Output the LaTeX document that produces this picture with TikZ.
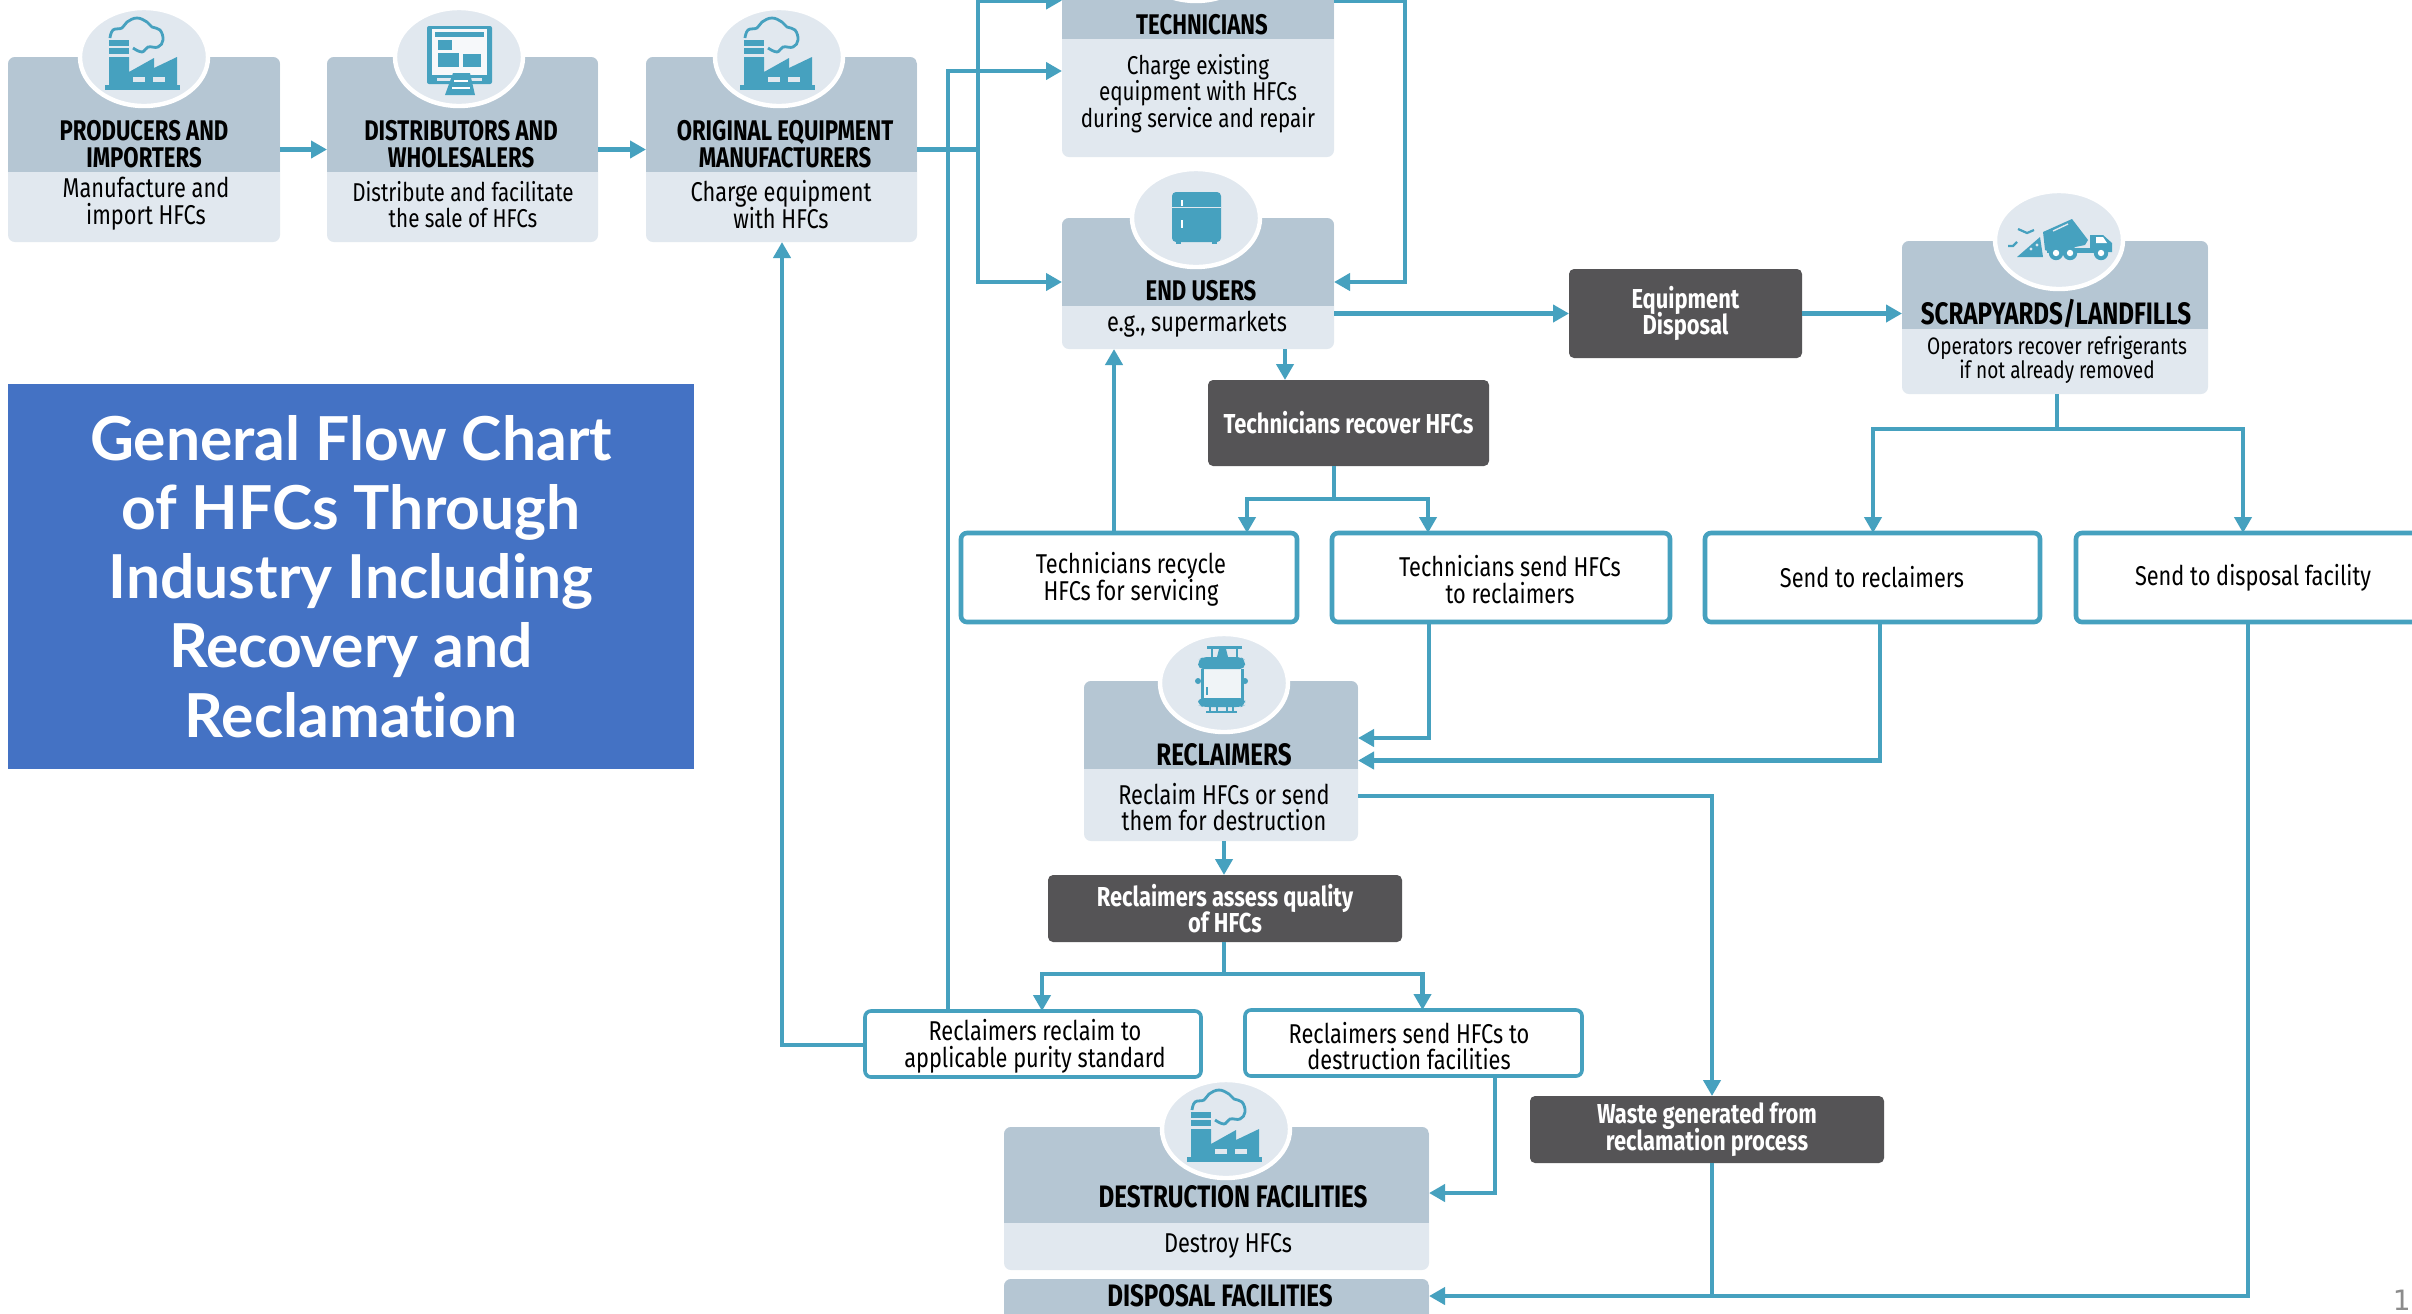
\documentclass[tikz,border=0pt]{standalone}
\usepackage{fontspec}
\usetikzlibrary{arrows.meta,shapes.geometric,calc}
\setmainfont{Fira Sans}
\newfontfamily\condf[FakeStretch=0.78]{Fira Sans}
\newfontfamily\bodyf[FakeStretch=0.80]{Fira Sans}
\newfontfamily\titlef[Ligatures=NoCommon]{Lato}
\newfontfamily\numf{DejaVu Sans}
\definecolor{flowc}{HTML}{46A1BF}
\definecolor{hdrc}{HTML}{B5C6D3}
\definecolor{bodyc}{HTML}{E1E8EF}
\definecolor{darkc}{HTML}{555456}
\definecolor{bluec}{HTML}{4472C4}
\newcommand\tightlines{\lineskiplimit=-100pt\relax}
\tikzset{
  bodybox/.style={fill=bodyc,rounded corners=3.5pt,inner sep=0pt,outer sep=0pt},
  iconell/.style={ellipse,fill=bodyc,draw=white,line width=2.2pt,minimum width=64pt,minimum height=49pt,inner sep=0pt,outer sep=0pt},
  hdrtxt/.style={inner sep=0pt,align=center,text=black,font=\tightlines\condf\bfseries\fontsize{14.2}{13.6}\selectfont},
  hdrbig/.style={hdrtxt,font=\tightlines\condf\bfseries\fontsize{15.5}{13.6}\selectfont},
  bodytxt/.style={inner sep=0pt,align=center,text=black,font=\tightlines\bodyf\fontsize{13.6}{13.4}\selectfont},
  bodynar/.style={bodytxt,font=\tightlines\bodyf\fontsize{12.9}{13.2}\selectfont},
  smalltxt/.style={inner sep=0pt,align=center,text=black,font=\tightlines\bodyf\fontsize{11.9}{12}\selectfont},
  darkbox/.style={fill=darkc,rounded corners=2.5pt,inner sep=0pt,outer sep=0pt,align=center,text=white,font=\tightlines\bodyf\bfseries\fontsize{13.7}{13.2}\selectfont},
  whitebox/.style={fill=white,draw=flowc,rounded corners=3pt,inner sep=0pt,outer sep=0pt,align=center,text=black},
  conn/.style={draw=flowc,line width=2.1pt},
  connar/.style={conn,-{Triangle[length=8pt,width=8.5pt]}},
  icf/.style={fill=flowc,draw=none},
  icl/.style={draw=flowc,line width=1.1pt,fill=none}
}
\newcommand\tboxx[6]{% name x1 y1 x2 y2 ysplit
  \pgfmathsetmacro\bw{(#4-#2)*0.5}\pgfmathsetmacro\bh{(#5-#3)*0.5}
  \node[bodybox,minimum width=\bw pt,minimum height=\bh pt] (#1) at ({(#2+#4)/2},{(#3+#5)/2}) {};
  \begin{scope}\clip[rounded corners=3.5pt] (#2,#3) rectangle (#4,#5);
  \fill[hdrc] (#2,#3) rectangle (#4,#6);\end{scope}}
\newcommand\dbox[7]{% name x1 y1 x2 y2 text style
  \pgfmathsetmacro\bw{(#4-#2)*0.5}\pgfmathsetmacro\bh{(#5-#3)*0.5}
  \node[#7,minimum width=\bw pt,minimum height=\bh pt] (#1) at ({(#2+#4)/2},{(#3+#5)/2}) {#6};}
\newcommand\wbox[7]{% name x1 y1 x2 y2 text linewidth
  \pgfmathsetmacro\bw{(#4-#2)*0.5}\pgfmathsetmacro\bh{(#5-#3)*0.5}
  \node[whitebox,line width=#7,minimum width=\bw pt,minimum height=\bh pt] (#1) at ({(#2+#4)/2},{(#3+#5)/2}) {};}
\newcommand\factoryicon[2]{%
  \begin{scope}[shift={(#1,#2)}]
  \fill[icf] (-39,28) rectangle (36,33);
  \fill[icf] (-35,-17) rectangle (-15,-11);
  \fill[icf] (-35,-9) rectangle (-15,-3);
  \fill[icf] (-35,0) -- (-15,0) -- (-15,15) -- (10,1) -- (10,11) -- (33,0) -- (33,30) -- (-35,30) -- cycle;
  \fill[bodyc] (-11,20) rectangle (1,25);
  \fill[bodyc] (9,20) rectangle (21,25);
  \draw[icl,line width=1.4pt] plot[smooth,tension=0.7] coordinates {(-34,-19) (-31,-27) (-22,-29) (-17,-35) (-7,-39) (3,-35) (8,-30) (16,-27) (19,-17) (14,-10) (4,-10) (-2,-5) (-11,-9)};
  \end{scope}}
\begin{document}
\begin{tikzpicture}[x=0.5pt,y=-0.5pt]
\clip (0,0) rectangle (2412,1313);
\fill[white] (0,0) rectangle (2412,1313);

% ---- title panel
\node[fill=bluec,minimum width=343pt,minimum height=192.25pt,inner sep=0pt,outer sep=0pt,align=center,text=white,font=\titlef\bfseries\fontsize{30.3}{34.6}\selectfont] (title) at (351,576.5)
{General Flow Chart\\of HFCs Through\\Industry Including\\Recovery and\\Reclamation};

% ---- header boxes
\tboxx{prod}{8}{57}{280}{242}{172}
\node[iconell] (prodI) at (144,57) {};
\factoryicon{144}{57}
\node[hdrtxt] (prodT) at (144,144.5) {PRODUCERS AND\\IMPORTERS};
\node[bodytxt] (prodB) at (146,204) {Manufacture and\\import HFCs};

\tboxx{dist}{327}{57}{598}{242}{172}
\node[iconell] (distI) at (459,57) {};
\begin{scope}[shift={(459,57)}]
  \fill[icf,rounded corners=1pt] (-32,-31) rectangle (33,27);
  \fill[white!70!bodyc] (-27,-28) rectangle (28,18);
  \fill[icf] (-24,-25) rectangle (25,-20);
  \fill[icf] (-21,-17) rectangle (-7,-7);
  \fill[icf] (-21,-4) rectangle (0,10);
  \fill[icf] (4,-3) rectangle (22,10);
  \fill[bodyc] (-22,21) rectangle (23,24);
  \fill[icf] (-6,16) -- (11,16) -- (16,38) -- (-14,38) -- cycle;
  \fill[white] (-5,23) rectangle (9,25);
  \fill[white] (-7,30) rectangle (11,32);
\end{scope}
\node[hdrtxt] (distT) at (461,144.5) {DISTRIBUTORS AND\\WHOLESALERS};
\node[bodynar] (distB) at (463,204.5) {Distribute and facilitate\\the sale of HFCs};

\tboxx{oem}{646}{57}{917}{242}{172}
\node[iconell] (oemI) at (779,57) {};
\factoryicon{779}{57}
\node[hdrtxt] (oemT) at (785,144.5) {ORIGINAL EQUIPMENT\\MANUFACTURERS};
\node[bodytxt] (oemB) at (781,204.5) {Charge equipment\\with HFCs};

\tboxx{tech}{1062}{-40}{1334}{157}{39}
\node[iconell] (techI) at (1196,-48) {};
\node[hdrtxt] (techT) at (1202,25) {TECHNICIANS};
\node[bodynar] (techB) at (1198,93.5) {Charge existing\\equipment with HFCs\\during service and repair};

\tboxx{endu}{1062}{218}{1334}{349}{306}
\node[iconell] (enduI) at (1196,218) {};
\begin{scope}[shift={(1196,218)}]
  \fill[icf,rounded corners=2pt] (-24,-26) rectangle (25,24);
  \fill[icf] (-20,24) rectangle (-15,26);
  \fill[icf] (16,24) rectangle (21,26);
  \fill[bodyc] (-24,-11.5) rectangle (25,-10);
  \fill[white] (-15,-18) rectangle (-13,-12);
  \fill[white] (-15,2) rectangle (-13,10);
\end{scope}
\node[hdrtxt] (enduT) at (1201,291) {END USERS};
\node[bodytxt] (enduB) at (1197,324) {e.g., supermarkets};

\dbox{eqd}{1569}{269}{1802}{358}{Equipment\\Disposal}{darkbox}

\tboxx{scrap}{1902}{241}{2208}{394}{329}
\node[iconell] (scrapI) at (2059,240) {};
\begin{scope}[shift={(2059,240)}]
  \fill[icf] (-16,-8) -- (13,-21) -- (29,0) -- (26,5) -- (-9,12) -- (-14,10) -- cycle;
  \draw[bodyc,line width=0.7pt] (-6,-9) -- (9,-16);
  \fill[icf] (-12,8) rectangle (44,13);
  \fill[icf] (31,-5) -- (44,-5) -- (53,3) -- (53,12) -- (31,12) -- cycle;
  \fill[white] (37,-3) -- (44,-3) -- (48,3) -- (37,3) -- cycle;
  \fill[icf] (-42,17) -- (-19,-3) -- (-16,17) -- cycle;
  \fill[bodyc] (-28,9) circle[radius=0.8pt];
  \fill[bodyc] (-22,5) circle[radius=0.8pt];
  \foreach \wx in {-3,11,42}{
    \fill[icf] (\wx,13) circle[radius=3.6pt];
    \fill[white] (\wx,13) circle[radius=1.6pt];}
  \draw[icl] (-41,-11) -- (-32,-7) -- (-25,-10);
  \draw[icl] (-51,6) -- (-46,6) -- (-42,2);
\end{scope}
\node[hdrbig] (scrapT) at (2056,314) {SCRAPYARDS/LANDFILLS};
\node[smalltxt] (scrapB) at (2057,360) {Operators recover refrigerants\\if not already removed};

\dbox{trec}{1208}{380}{1489}{466}{Technicians recover HFCs}{darkbox}

\wbox{recy}{961}{533}{1297}{622}{}{2.3pt}
\node[bodytxt] (recyT) at (1131,579.5) {Technicians recycle\\HFCs for servicing};
\wbox{sndr}{1332}{533}{1670}{622}{}{2.3pt}
\node[bodytxt] (sndrT) at (1510,579.5) {Technicians send HFCs\\to reclaimers};
\wbox{sndc}{1705}{533}{2040}{622}{}{2.3pt}
\node[bodytxt] (sndcT) at (1872,577) {Send to reclaimers};
\wbox{sndd}{2076}{533}{2420}{622}{}{2.3pt}
\node[bodytxt] (snddT) at (2253,578) {Send to disposal facility};

\tboxx{recl}{1084}{681}{1358}{841}{769}
\node[iconell] (reclI) at (1224,683) {};
\begin{scope}[shift={(1224,683)}]
  \fill[white!50!bodyc] (-22,-18) rectangle (18,22);
  \draw[icl,line width=1.5pt] (-22,-14) -- (-22,20);
  \draw[icl,line width=1.5pt] (18,-14) -- (18,20);
  \fill[icf,rounded corners=2.5pt] (-26,-23) -- (-21,-26) -- (17,-26) -- (21,-23) -- (21,-14) -- (-26,-14) -- cycle;
  \fill[icf,rounded corners=2.5pt] (-26,15) -- (21,15) -- (21,22) -- (17,24) -- (-21,24) -- (-26,22) -- cycle;
  \fill[icf] (-17,-37) rectangle (18,-34);
  \draw[icl] (-12,-35) -- (-12,-26);
  \draw[icl] (13,-35) -- (13,-26);
  \fill[icf] (-5,-34) -- (2,-34) -- (4,-26) -- (-7,-26) -- cycle;
  \fill[icf] (-26,-2) circle[radius=1.5pt];
  \fill[icf] (21,-2) circle[radius=1.5pt];
  \fill[icf] (-18,27.5) rectangle (13,30);
  \draw[icl] (-14,24) -- (-14,29);
  \draw[icl] (-7,24) -- (-7,29);
  \draw[icl] (3,24) -- (3,29);
  \draw[icl] (9,24) -- (9,29);
  \draw[icl] (-17,4) -- (-17,12);
\end{scope}
\node[hdrbig] (reclT) at (1224,755) {RECLAIMERS};
\node[bodytxt] (reclB) at (1224,807) {Reclaim HFCs or send\\them for destruction};

\dbox{assq}{1048}{875}{1402}{942}{Reclaimers assess quality\\of HFCs}{darkbox}

\wbox{rpur}{865}{1011}{1201}{1077}{}{1.8pt}
\node[bodytxt] (rpurT) at (1035,1046) {Reclaimers reclaim to\\applicable purity standard};
\wbox{rdes}{1245}{1010}{1582}{1076}{}{1.8pt}
\node[bodytxt] (rdesT) at (1409,1046) {Reclaimers send HFCs to\\destruction facilities};

\tboxx{dest}{1004}{1127}{1429}{1270}{1223}
\node[iconell] (destI) at (1226,1129) {};
\factoryicon{1226}{1129}
\node[hdrbig] (destT) at (1233,1197) {DESTRUCTION FACILITIES};
\node[bodytxt] (destB) at (1228,1246) {Destroy HFCs};

\tboxx{disp}{1004}{1279}{1429}{1340}{1340}
\node[hdrbig,anchor=center] (dispT) at (1220,1296) {DISPOSAL FACILITIES};

\dbox{wast}{1530}{1096}{1884}{1163}{Waste generated from\\reclamation process}{darkbox}

\node[anchor=south east,inner sep=0pt,text=black!45,font=\numf\fontsize{14}{14}\selectfont] (pnum) at (2411,1311) {1};

% ---- connector bend points
\coordinate (j1) at (978,149.5);
\coordinate (yTechTop) at (0,0.5);
\coordinate (yTechMid) at (0,71);
\coordinate (yEndIn) at (0,282);
\coordinate (xRet) at (948,0);
\coordinate (xLoop) at (1405,0);
\coordinate (yEq) at (0,313.5);
\coordinate (j2) at (1334,499);
\coordinate (j3) at (2057,429);
\coordinate (j4) at (1224,974);
\coordinate (yRecA) at (0,738);
\coordinate (yRecB) at (0,760.5);
\coordinate (yRecOut) at (0,796);
\coordinate (xWaste) at (1712,0);
\coordinate (yPur) at (0,1045);
\coordinate (xOem) at (782,0);
\coordinate (yDest) at (0,1193);
\coordinate (yDisp) at (0,1296);

% ---- connectors
\draw[connar] (prod.east) -- (dist.west);
\draw[connar] (dist.east) -- (oem.west);
\draw[conn] (oem.east) -- (j1);
\draw[connar] (j1) |- (tech.west |- yTechTop);
\draw[connar] (j1) |- (endu.west |- yEndIn);
\draw[connar] (rpur.north -| xRet) |- (tech.west |- yTechMid);
\draw[connar] (tech.east |- yTechTop) -| (xLoop |- yEndIn) -- (endu.east |- yEndIn);
\draw[connar] (endu.east |- yEq) -- (eqd.west |- yEq);
\draw[connar] (eqd.east |- yEq) -- (scrap.west |- yEq);
\draw[connar] (endu.south -| 1285,0) -- (trec.north -| 1285,0);
\draw[conn] (trec.south -| j2) -- (j2);
\draw[connar] (j2) -| (recy.north -| 1247,0);
\draw[connar] (j2) -| (sndr.north -| 1428,0);
\draw[connar] (recy.north -| 1114,0) -- (endu.south -| 1114,0);
\draw[conn] (scrap.south -| j3) -- (j3);
\draw[connar] (j3) -| (sndc.north -| 1873,0);
\draw[connar] (j3) -| (sndd.north -| 2243,0);
\draw[connar] (sndr.south -| 1429,0) |- (recl.east |- yRecA);
\draw[connar] (sndc.south -| 1880,0) |- (recl.east |- yRecB);
\draw[connar] (recl.east |- yRecOut) -| (wast.north -| xWaste);
\draw[connar] (recl.south -| j4) -- (assq.north -| j4);
\draw[conn] (assq.south -| j4) -- (j4);
\draw[connar] (j4) -| (rpur.north -| 1042,0);
\draw[connar] (j4) -| (rdes.north -| 1422.5,0);
\draw[connar] (rpur.west |- yPur) -| (oem.south -| xOem);
\draw[connar] (rdes.south -| 1495,0) |- (dest.east |- yDest);
\draw[conn] (wast.south -| xWaste) -- (xWaste |- yDisp);
\draw[connar] (sndd.south -| 2248,0) |- (disp.east |- yDisp);
\end{tikzpicture}
\end{document}
